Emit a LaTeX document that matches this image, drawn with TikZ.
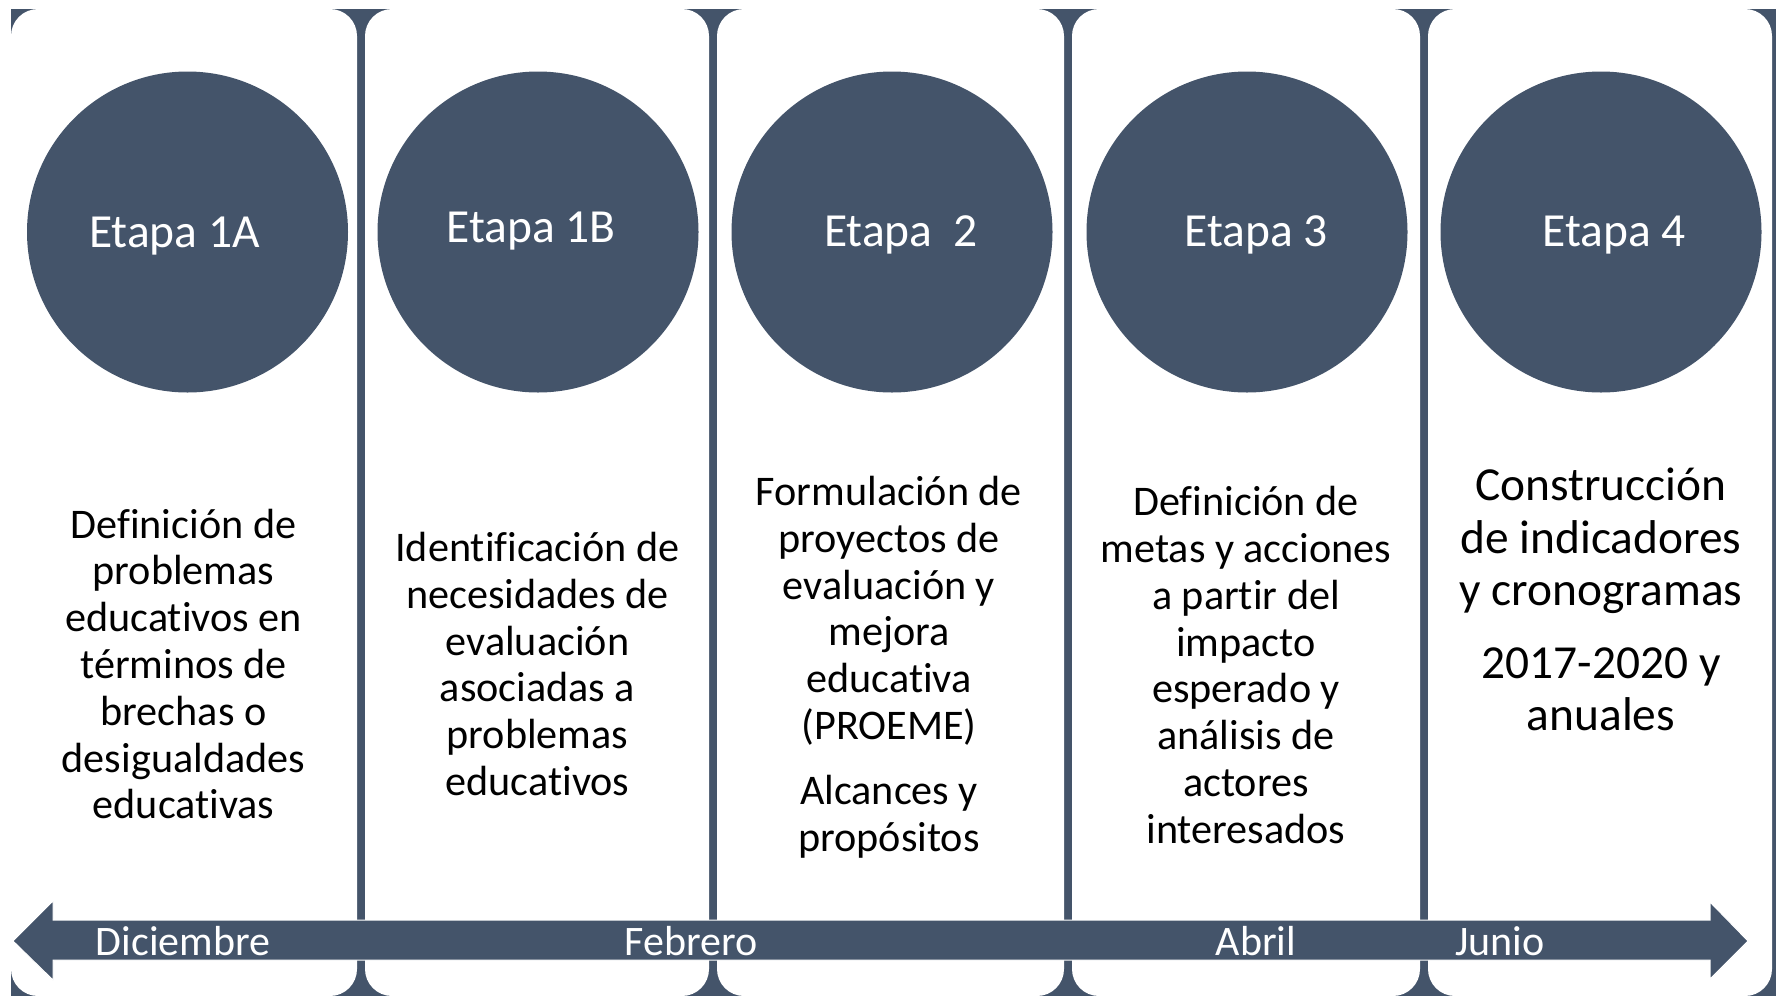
\documentclass[tikz,border=0pt]{standalone}
\usepackage{fontspec}
\setmainfont{Carlito}[Ligatures=NoCommon]
\definecolor{pizarra}{HTML}{44546A}

\begin{document}
\begin{tikzpicture}[x=0.5pt, y=-0.5pt,
    etapa/.style={circle, fill=pizarra, minimum size=160.5pt, inner sep=0pt},
    titulo/.style={text=white, font=\fontsize{23.75}{28}\selectfont},
    texto/.style={align=center, font=\fontsize{21.1}{23.4}\selectfont},
    textogrande/.style={align=center, font=\fontsize{23.7}{26.15}\selectfont},
    mes/.style={text=white, anchor=base, font=\fontsize{21}{24}\selectfont}]
    \useasboundingbox (0,0) rectangle (1782,996);
    \fill [pizarra] (11,9) rectangle (1776,996);
    \foreach \a/\b in {11/357, 365/709, 717/1064, 1072/1420, 1428/1772}
        \fill [white, rounded corners=13.5pt] (\a,9) rectangle (\b,996);

    \node (etapa1a) at (187.5,232) [etapa] {};
    \node (etapa1b) at (538,232) [etapa] {};
    \node (etapa2) at (892,232) [etapa] {};
    \node (etapa3) at (1247,232) [etapa] {};
    \node (etapa4) at (1601,232) [etapa] {};

    \node (titulo1a) at (174.5,236) [titulo] {Etapa 1A};
    \node (titulo1b) at (531,231) [titulo] {Etapa 1B};
    \node (titulo2) at (901,235) [titulo] {Etapa\ \ 2};
    \node (titulo3) at (1256,235) [titulo] {Etapa 3};
    \node (titulo4) at (1614,235) [titulo] {Etapa 4};

    \node (texto1a) at (183.5,664) [texto] {Definición de\\problemas\\educativos en\\términos de\\brechas o\\desigualdades\\educativas};
    \node (texto1b) at (537.5,664) [texto] {Identificación de\\necesidades de\\evaluación\\asociadas a\\problemas\\educativos};
    \node (texto2) at (889,667) [texto] {Formulación de\\proyectos de\\evaluación y\\mejora\\educativa\\(PROEME)\\[9pt]Alcances y\\propósitos};
    \node (texto3) at (1246,665) [texto] {Definición de\\metas y acciones\\a partir del\\impacto\\esperado y\\análisis de\\actores\\interesados};
    \node (texto4) at (1601,599.5) [textogrande] {Construcción\\de indicadores\\y cronogramas\\[10.2pt]2017-2020 y\\anuales};

    \fill [pizarra, draw=white, line width=0.5pt] (13,941) -- (53,901) -- (53,920) -- (1710,920)
        -- (1710,902) -- (1748,941) -- (1710,979) -- (1710,960) -- (53,960) -- (53,980) -- cycle;

    \node (mesdic) at (183,955) [mes] {Diciembre};
    \node (mesfeb) at (691,955) [mes] {Febrero};
    \node (mesabr) at (1256,955) [mes] {Abril};
    \node (mesjun) at (1500,955) [mes] {Junio};
\end{tikzpicture}
\end{document}
